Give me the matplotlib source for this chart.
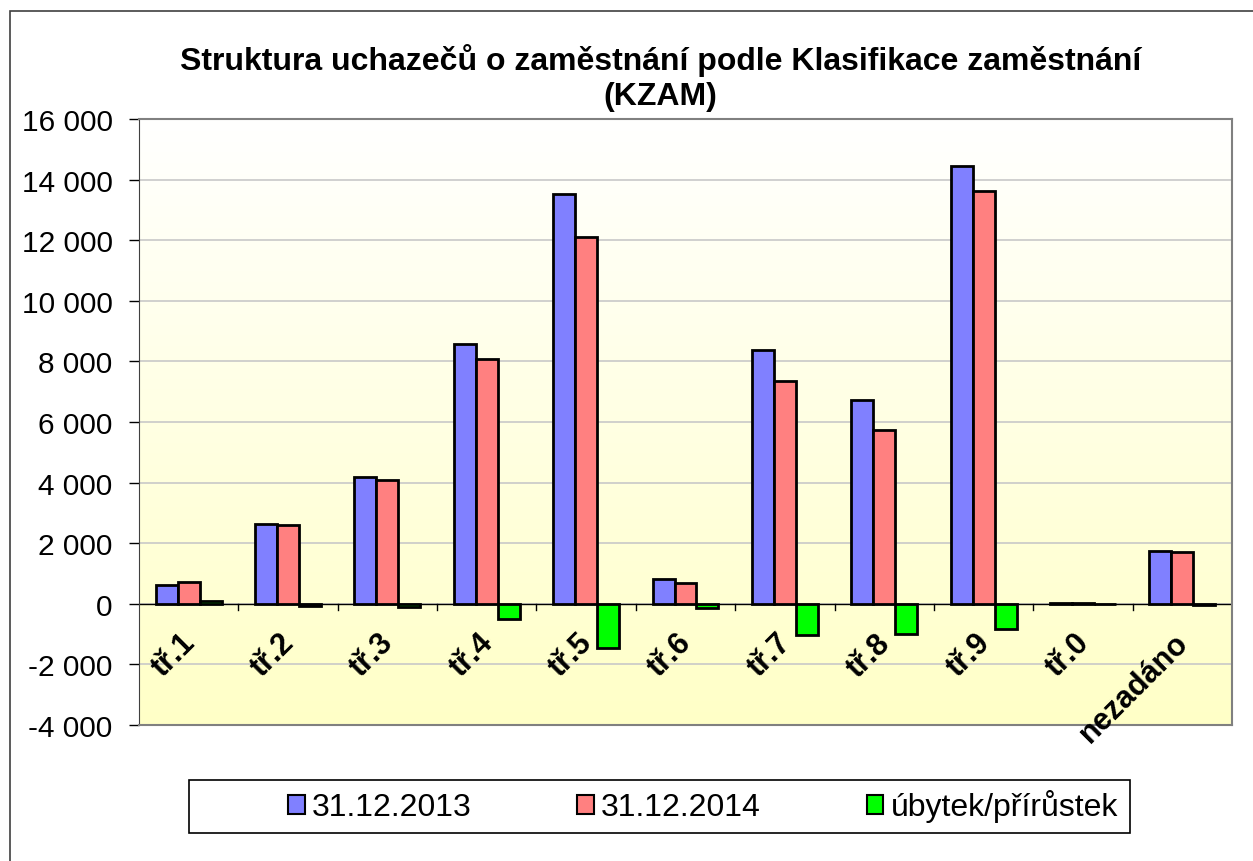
import numpy as np
import matplotlib
matplotlib.use('Agg')
import matplotlib.pyplot as plt
from matplotlib.ticker import FuncFormatter, MultipleLocator
from matplotlib.patches import Rectangle

# --- Data ---
categories = ["tř.1", "tř.2", "tř.3", "tř.4", "tř.5", "tř.6", "tř.7", "tř.8", "tř.9", "tř.0", "nezadáno"]
val_2013 = [620, 2650, 4200, 8575, 13540, 830, 8370, 6720, 14450, 30, 1740]
val_2014 = [720, 2590, 4080, 8080, 12090, 690, 7340, 5720, 13630, 20, 1700]
diff = [b - a for a, b in zip(val_2013, val_2014)]
series_names = ["31.12.2013", "31.12.2014", "úbytek/přírůstek"]
title = "Struktura uchazečů o zaměstnání podle Klasifikace zaměstnání\n(KZAM)"

plt.rcParams['font.family'] = ['Liberation Sans', 'DejaVu Sans']

W, H = 1253, 862
fig = plt.figure(figsize=(W / 100, H / 100), dpi=100)
ax = fig.add_axes([139 / W, 1 - 726 / H, (1232 - 139) / W, (726 - 120) / H])

# outer chart frame
fig.patches.append(Rectangle((10 / W, -0.05), 1.2, 1 - 12 / H + 0.05,
                             transform=fig.transFigure, fill=False,
                             edgecolor='#404040', linewidth=1.2, clip_on=False))
# legend frame (Excel puts the entries off-centre in it)
fig.patches.append(Rectangle((189 / W, 1 - 834 / H), (1130 - 189) / W, (834 - 781) / H,
                             transform=fig.transFigure, fill=False,
                             edgecolor='black', linewidth=1.2))

# gradient plot-area background (white at top -> pale yellow at bottom)
grad = np.linspace(0, 1, 256).reshape(-1, 1)
top = np.array([1.0, 1.0, 1.0])
bot = np.array([1.0, 1.0, 0.78])
img = top + (bot - top) * grad[..., None]
ax.imshow(img, extent=[0, 1, 0, 1], transform=ax.transAxes, aspect='auto', zorder=0)

x = np.arange(len(categories))
w = 0.221
colors = ['#8080FF', '#FF8080', '#00FF00']
for i, (vals, c, name) in enumerate(zip([val_2013, val_2014, diff], colors, series_names)):
    ax.bar(x + (i - 1) * w, vals, width=w, color=c, edgecolor='black',
           linewidth=2, label=name, zorder=3)

ax.set_xlim(-0.5, len(categories) - 0.5)
ax.set_ylim(-4000, 16000)
ax.yaxis.set_major_locator(MultipleLocator(2000))
ax.yaxis.set_major_formatter(FuncFormatter(lambda v, p: f"{int(v):,}".replace(",", " ")))
ax.grid(axis='y', color='#C8C8C8', linewidth=1.2, zorder=1)
ax.set_axisbelow(True)
ax.tick_params(axis='y', labelsize=21.5, length=7, width=1, direction='out', pad=12)

# x axis at zero with ticks at category boundaries
ax.set_xticks([])
ax.axhline(0, color='black', linewidth=1, zorder=2)
for b in np.arange(0.5, len(categories) - 0.5, 1.0):
    ax.plot([b, b], [0, -220], color='black', linewidth=1, zorder=2)

for xi, lab in zip(x, categories):
    ax.text(xi - 0.09, -780, lab, rotation=45, ha='right', va='top',
            rotation_mode='anchor', fontsize=22, fontweight='bold', clip_on=False, zorder=4)

for s in ['top', 'right', 'bottom']:
    ax.spines[s].set_color('#808080')
    ax.spines[s].set_linewidth(1.5)
ax.spines['left'].set_color('#404040')

fig.text(0.527, 1 - 78 / H, title, ha='center', va='center', fontsize=23,
         fontweight='bold', linespacing=1.2)

leg = fig.legend(loc='center', bbox_to_anchor=(703 / W, 1 - 807 / H), ncol=3, fontsize=23,
                 frameon=False, handlelength=0.53, handleheight=0.53,
                 handletextpad=0.22, columnspacing=3.3, borderpad=0.3)
for p in leg.get_patches():
    p.set_linewidth(1.5)

fig.savefig('out.png', dpi=100)
